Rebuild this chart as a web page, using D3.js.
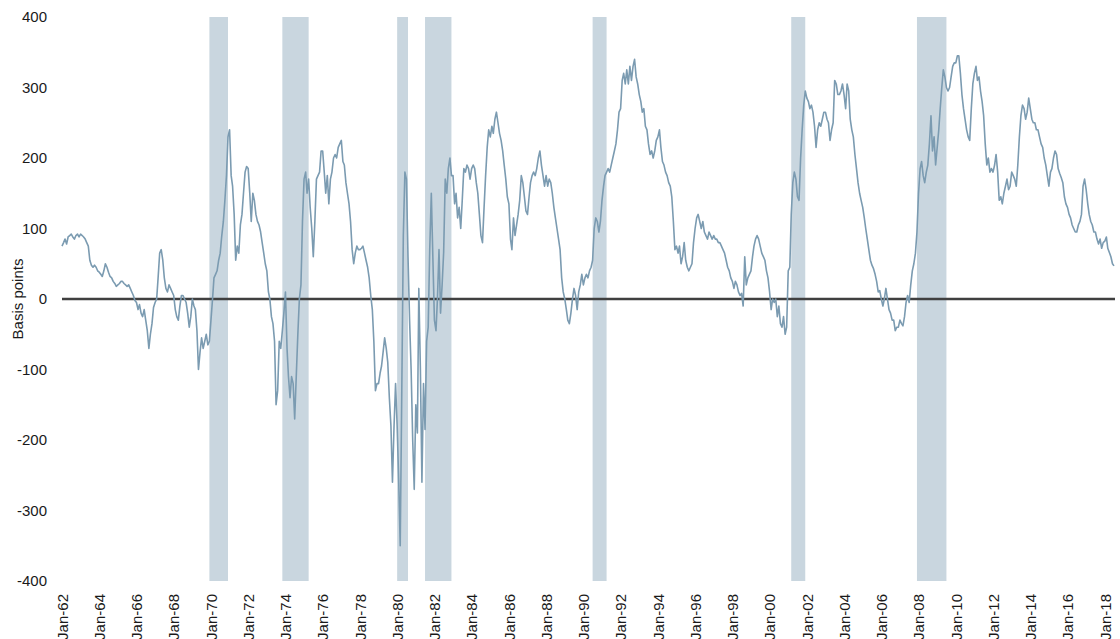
<!DOCTYPE html>
<html><head><meta charset="utf-8">
<script src="https://cdn.jsdelivr.net/npm/d3@7"></script>
<style>
html,body{margin:0;padding:0;background:#fff;}
svg{display:block;}
text{font-family:"Liberation Sans","DejaVu Sans",sans-serif;fill:#1a1a1a;}
</style></head>
<body>
<svg id="chart" width="1120" height="639"></svg>
<script>
// ---- DATA ----
const seriesStart = "1962-01";           // first monthly observation
const spreadBp = [                        // monthly spread, basis points
 75,80,85,78,88,90,92,88,85,90,92,88,            // 1962
 92,90,88,85,80,75,55,48,45,48,45,40,            // 1963
 38,35,32,40,50,45,38,32,30,25,22,18,            // 1964
 20,22,25,25,22,20,18,20,15,10,5,-2,             // 1965
 -5,-15,-8,-20,-25,-15,-30,-45,-70,-50,-35,-12,  // 1966
 -5,0,30,65,70,55,30,15,10,20,15,10,             // 1967
 5,-15,-25,-30,-10,5,5,0,-5,-20,-40,-25,         // 1968
 0,-10,-15,-45,-100,-75,-55,-70,-60,-50,-65,-60, // 1969
 -30,0,30,35,40,55,65,90,110,140,175,230,        // 1970
 240,175,160,120,55,75,65,105,120,150,180,188,   // 1971
 185,150,110,150,140,120,110,105,95,80,65,50,    // 1972
 40,10,0,-25,-35,-60,-150,-130,-60,-70,-45,-20,  // 1973
 10,-70,-110,-140,-110,-120,-170,-110,-50,0,20,110, // 1974
 170,180,150,170,130,100,60,110,170,175,180,210, // 1975
 210,180,150,175,135,170,180,200,205,200,215,220, // 1976
 225,195,190,165,150,135,110,70,50,65,75,70,     // 1977
 70,72,75,65,55,45,30,5,-15,-60,-130,-120,       // 1978
 -120,-105,-95,-75,-55,-70,-90,-140,-180,-260,-180,-120, // 1979
 -180,-260,-350,-130,90,180,170,60,-30,-100,-200,-270,   // 1980
 -150,-190,15,-100,-260,-120,-185,-60,-40,70,150,60,     // 1981
 -30,-45,0,70,-20,20,66,170,150,185,200,175,     // 1982
 175,135,150,115,130,100,140,185,180,190,185,170, // 1983
 185,190,185,165,150,120,90,80,130,175,215,240,  // 1984
 230,245,235,255,265,250,235,225,210,190,170,145, // 1985
 135,85,70,115,90,105,120,140,175,165,145,125,   // 1986
 120,145,165,175,180,175,185,200,210,190,175,160, // 1987
 175,160,170,165,150,130,115,100,85,70,30,10,    // 1988
 0,-15,-30,-35,-20,0,15,5,-15,10,20,35,          // 1989
 20,30,35,30,40,45,55,100,115,110,95,110,        // 1990
 140,160,175,180,185,180,190,200,210,220,240,265, // 1991
 270,310,320,305,325,305,330,310,330,340,315,305, // 1992
 290,280,265,270,245,240,220,205,210,200,210,225, // 1993
 230,240,215,195,190,180,175,165,160,145,110,70, // 1994
 75,65,75,50,60,80,55,45,40,45,50,80,            // 1995
 100,115,120,110,100,110,95,90,85,95,90,85,      // 1996
 90,85,85,80,80,75,70,65,55,45,40,30,            // 1997
 25,15,25,20,10,5,8,-10,60,20,30,35,             // 1998
 40,60,75,85,90,85,75,65,60,55,40,30,            // 1999
 10,-15,0,-5,0,-25,-10,-35,-40,-25,-50,-40,      // 2000
 40,45,120,165,180,170,145,140,200,240,275,295,  // 2001
 285,280,270,275,265,245,215,240,250,245,255,265, // 2002
 265,255,250,225,240,250,310,305,290,290,295,305, // 2003
 290,270,305,295,255,240,230,205,185,165,150,140, // 2004
 130,115,100,85,70,55,48,43,35,25,10,12,         // 2005
 0,-10,0,15,0,-15,-20,-30,-30,-45,-40,-40,       // 2006
 -30,-35,-38,-25,-5,5,-5,20,40,50,65,95,         // 2007
 150,185,195,175,165,180,190,220,260,210,230,190, // 2008
 215,240,270,300,325,315,300,295,300,315,330,335, // 2009
 335,345,345,320,290,270,255,240,230,225,270,305, // 2010
 320,330,310,315,295,280,260,220,190,200,180,185, // 2011
 180,190,205,180,140,145,135,150,160,170,155,160, // 2012
 180,175,170,160,190,230,260,275,270,255,265,285, // 2013
 270,255,250,250,240,240,230,220,215,200,190,175, // 2014
 160,180,185,200,210,205,185,178,172,165,145,135, // 2015
 130,120,115,105,100,95,95,105,110,120,160,170,  // 2016
 155,135,120,110,105,95,95,85,78,85,72,80,       // 2017
 82,88,72,66,60,50,47                            // 2018
];
const recessionStart = ["1969-12","1973-11","1980-01","1981-07","1990-07","2001-03","2007-12"];
const recessionEnd   = ["1970-12","1975-04","1980-08","1982-12","1991-04","2001-12","2009-07"];
const yTicks = [400,300,200,100,0,-100,-200,-300,-400];
const xTickYears = [1962,1964,1966,1968,1970,1972,1974,1976,1978,1980,1982,1984,1986,1988,1990,
  1992,1994,1996,1998,2000,2002,2004,2006,2008,2010,2012,2014,2016,2018];
const yAxisTitle = "Basis points";

// ---- CHART ----
(function(){
const parseM = d3.timeParse("%Y-%m");
const t0 = parseM(seriesStart);
const data = spreadBp.map((v,i)=>({date:d3.timeMonth.offset(t0,i), v}));

const svg = d3.select("#chart");
const pL = 62, pR = 1114, pT = 17, pB = 581;

const x = d3.scaleTime()
  .domain([t0, data[data.length-1].date])
  .range([pL, pR]);
const y = d3.scaleLinear().domain([-400,400]).range([pB, pT]);

// recession bands
svg.append("g").selectAll("rect")
  .data(recessionStart.map((s,i)=>({s:parseM(s), e:parseM(recessionEnd[i])})))
  .join("rect")
  .attr("x", d=>x(d.s))
  .attr("width", d=>x(d.e)-x(d.s))
  .attr("y", pT)
  .attr("height", pB-pT)
  .attr("fill", "#c9d6df");

// zero line
svg.append("line")
  .attr("x1", pL).attr("x2", pR+1)
  .attr("y1", y(0)).attr("y2", y(0))
  .attr("stroke", "#404040").attr("stroke-width", 2.6);

// series line
svg.append("path")
  .datum(data)
  .attr("fill","none")
  .attr("stroke","#7b9bb1")
  .attr("stroke-width",1.6)
  .attr("stroke-linejoin","round")
  .attr("d", d3.line().x(d=>x(d.date)).y(d=>y(d.v)));

// y axis
const yAxis = d3.axisLeft(y).tickValues(yTicks).tickSize(0).tickPadding(0)
  .tickFormat(d => String(d));
const gy = svg.append("g").attr("transform", `translate(47,0)`).call(yAxis);
gy.select(".domain").remove();
gy.attr("font-family", null);
gy.selectAll("text").attr("font-size", 15).attr("fill","#1a1a1a");

// x axis
const xAxis = d3.axisBottom(x)
  .tickValues(xTickYears.map(yr=>new Date(yr,0,1)))
  .tickSize(0)
  .tickFormat(d3.timeFormat("Jan-%y"));
const gx = svg.append("g").attr("transform", `translate(0,${pB})`).call(xAxis);
gx.select(".domain").remove();
gx.attr("font-family", null);
gx.selectAll("text")
  .attr("font-size", 15).attr("fill","#1a1a1a")
  .attr("transform", "rotate(-90)")
  .attr("text-anchor", "end")
  .attr("x", -13).attr("y", 0).attr("dy", "0.35em");

// y title
svg.append("text")
  .attr("transform", "translate(23,299) rotate(-90)")
  .attr("text-anchor", "middle")
  .attr("font-size", 15)
  .text(yAxisTitle);
})();
</script>
</body></html>
